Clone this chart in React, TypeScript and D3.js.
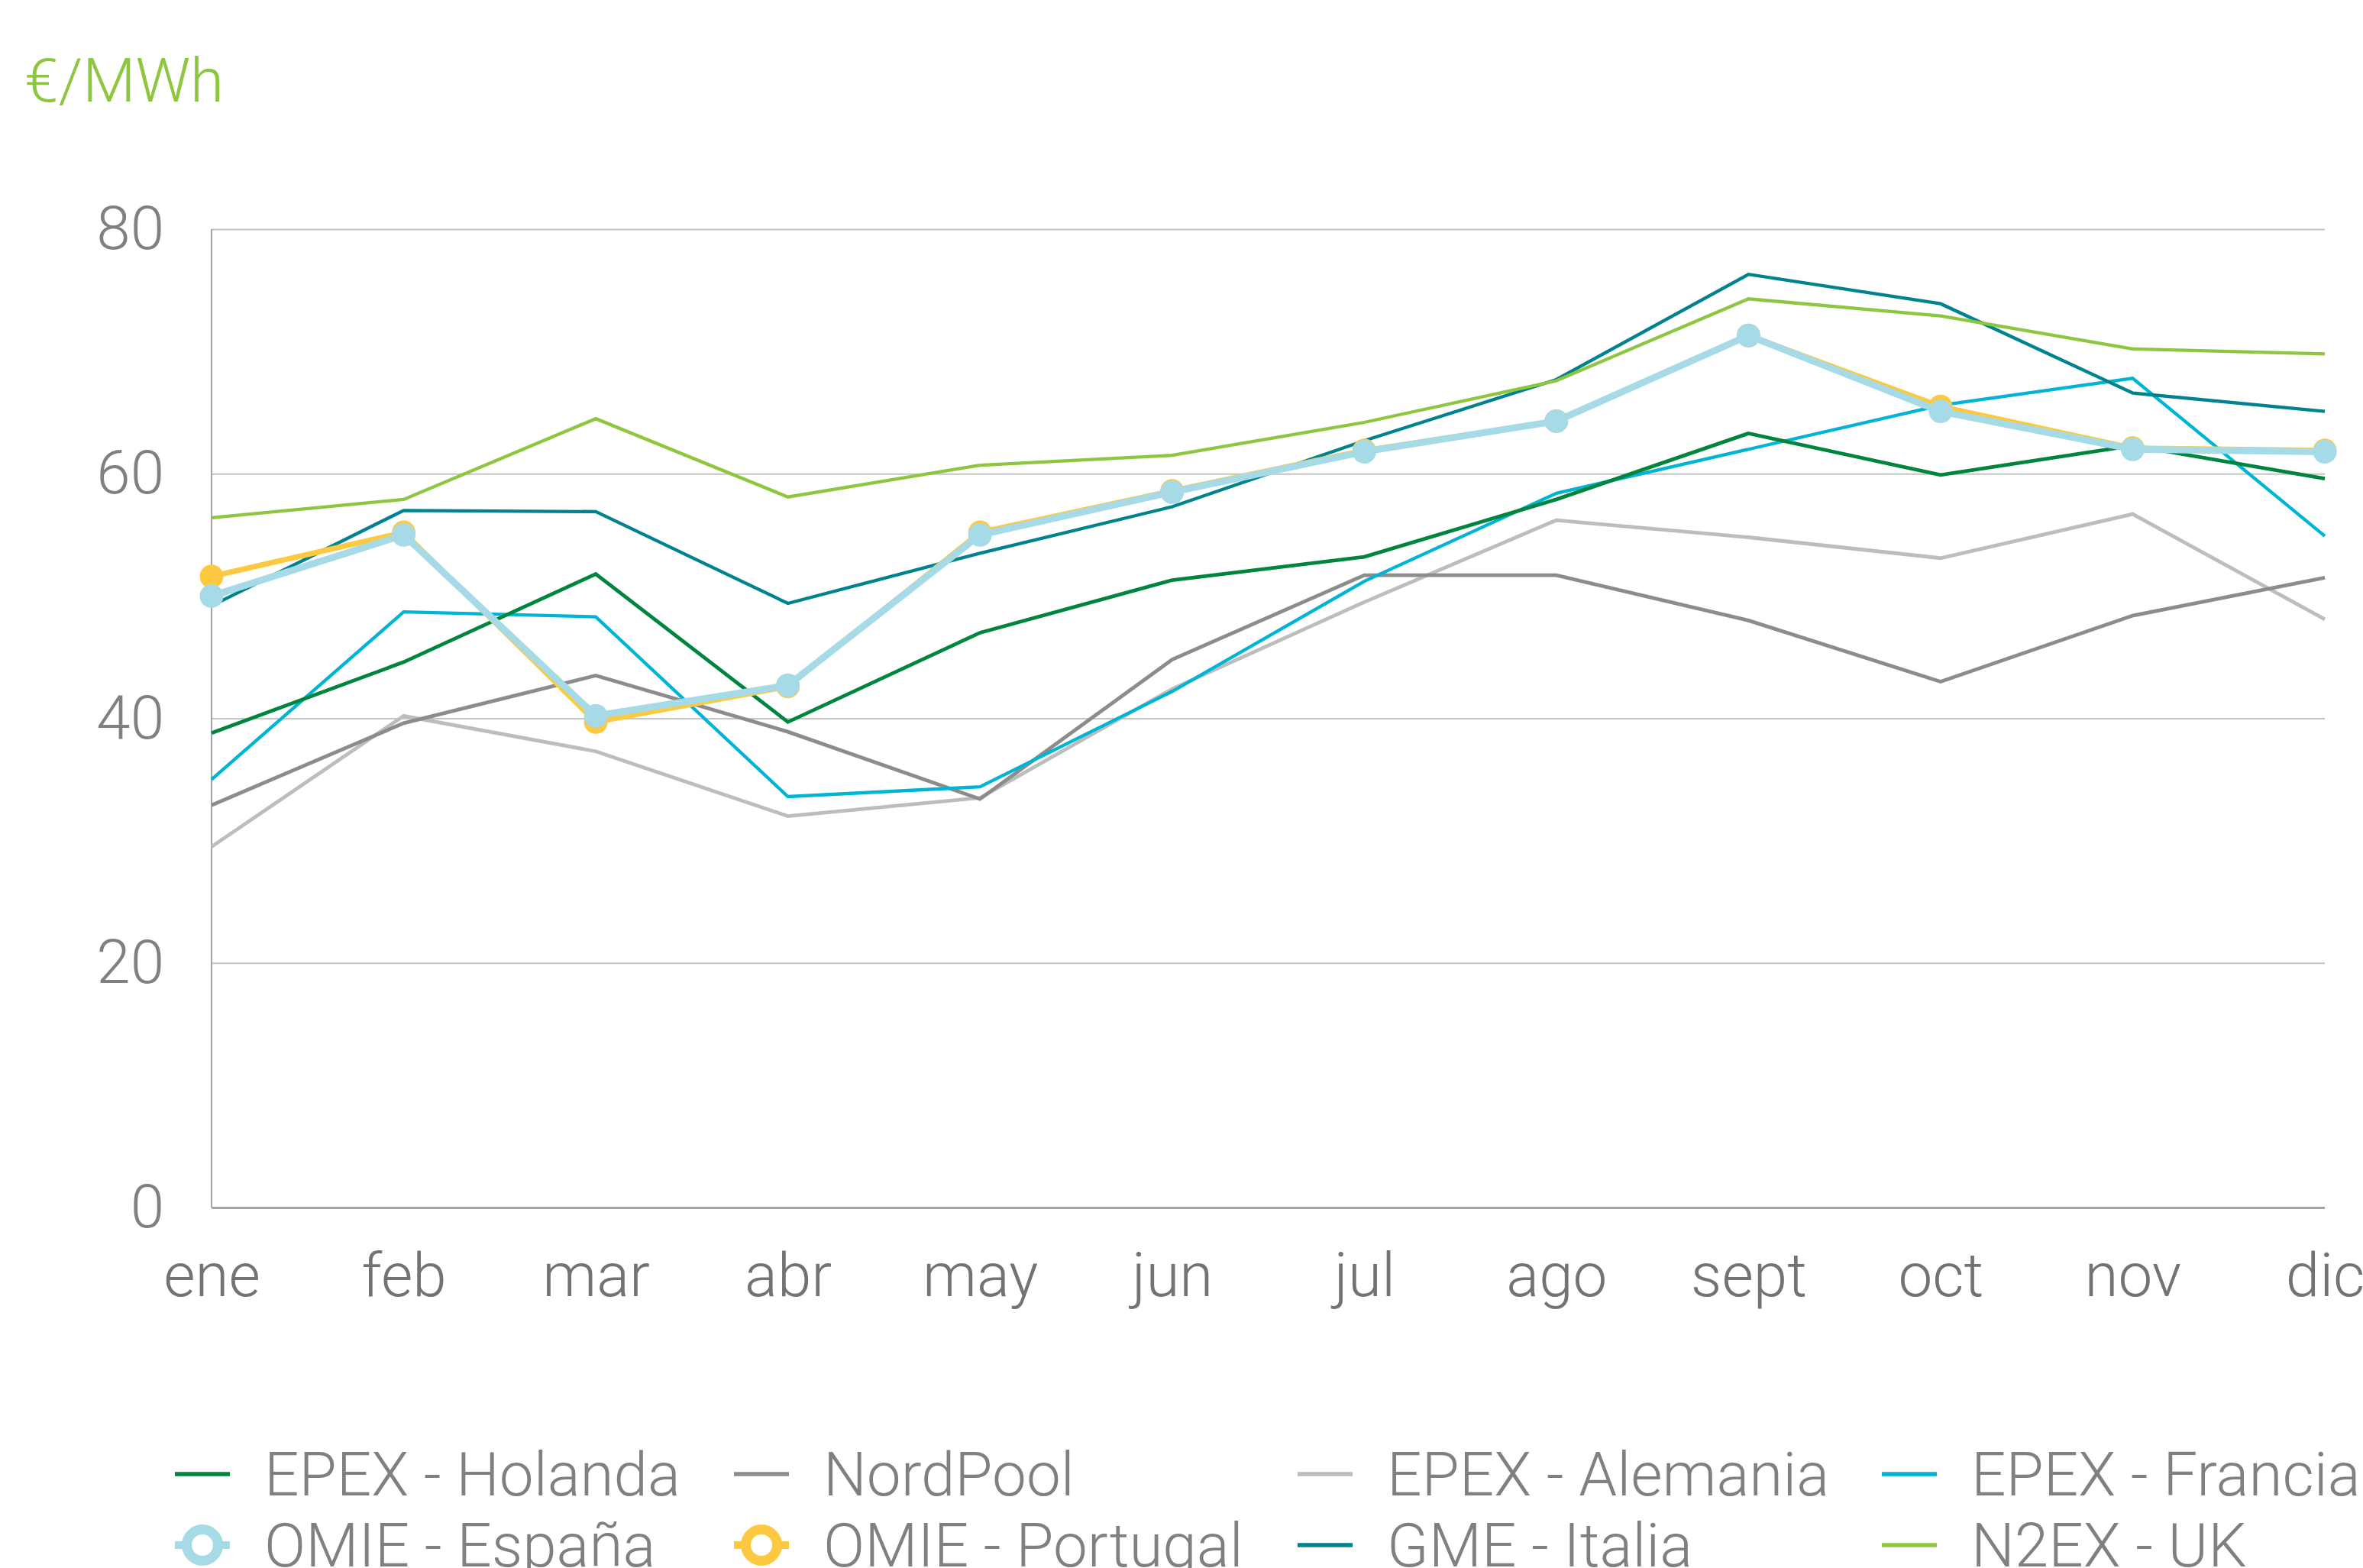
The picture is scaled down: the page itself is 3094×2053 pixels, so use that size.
import React, { useEffect, useRef } from "react";
import * as d3 from "d3";

const months = ["ene", "feb", "mar", "abr", "may", "jun", "jul", "ago", "sept", "oct", "nov", "dic"];
const epexHolanda = [38.8, 44.6, 51.8, 39.7, 47.0, 51.3, 53.2, 57.9, 63.3, 59.9, 62.3, 59.6];
const nordPool = [32.9, 39.6, 43.5, 38.9, 33.4, 44.8, 51.7, 51.7, 48.0, 43.0, 48.4, 51.5];
const epexAlemania = [29.5, 40.2, 37.3, 32.0, 33.5, 42.4, 49.5, 56.2, 54.8, 53.1, 56.7, 48.1];
const epexFrancia = [35.0, 48.7, 48.3, 33.6, 34.4, 42.2, 51.2, 58.4, 62.0, 65.6, 67.8, 54.9];
const omieEspana = [50.0, 55.0, 40.2, 42.7, 55.0, 58.5, 61.8, 64.3, 71.3, 65.1, 62.0, 61.8];
const omiePortugal = [51.6, 55.2, 39.7, 42.6, 55.2, 58.6, 61.9, 64.3, 71.3, 65.5, 62.1, 61.9];
const gmeItalia = [49.2, 57.0, 56.9, 49.4, 53.5, 57.3, 62.7, 67.7, 76.3, 73.9, 66.6, 65.1];
const n2exUK = [56.4, 57.9, 64.5, 58.1, 60.7, 61.5, 64.2, 67.6, 74.3, 72.9, 70.2, 69.8];
const yTicks = [0, 20, 40, 60, 80];

type Series = { name: string; values: number[]; color: string; width: number; marker: boolean };

const series: Series[] = [
  { name: "EPEX - Holanda", values: epexHolanda, color: "#00853E", width: 4.8, marker: false },
  { name: "NordPool", values: nordPool, color: "#8C8C8C", width: 4.8, marker: false },
  { name: "EPEX - Alemania", values: epexAlemania, color: "#BDBDBD", width: 4.8, marker: false },
  { name: "EPEX - Francia", values: epexFrancia, color: "#00B4D5", width: 4.3, marker: false },
  { name: "OMIE - España", values: omieEspana, color: "#A7DAE7", width: 9, marker: true },
  { name: "OMIE - Portugal", values: omiePortugal, color: "#FDC940", width: 7, marker: true },
  { name: "GME - Italia", values: gmeItalia, color: "#00838F", width: 4.3, marker: false },
  { name: "N2EX - UK", values: n2exUK, color: "#8DC63F", width: 4.3, marker: false },
];

// order the lines are painted in (España last, on top of Portugal)
const drawOrder = ["EPEX - Alemania", "NordPool", "EPEX - Francia", "EPEX - Holanda", "GME - Italia", "N2EX - UK", "OMIE - Portugal", "OMIE - España"];

const W = 3094;
const H = 2053;
const FONT = "Roboto, 'Open Sans', sans-serif";

function Chart() {
  const ref = useRef<SVGSVGElement>(null);

  useEffect(() => {
    const svg = d3.select(ref.current);
    svg.selectAll("*").remove();

    const left = 277, right = 3044, top = 300, bottom = 1581;

    const x = d3.scalePoint<string>().domain(months).range([left, right]);
    const y = d3.scaleLinear().domain([0, 80]).range([bottom, top]);

    // unit label
    svg
      .append("text")
      .attr("x", 32)
      .attr("y", 133)
      .style("font-family", FONT)
      .style("font-weight", 300)
      .style("font-size", "80px")
      .attr("fill", "#8DC63F")
      .text("€/MWh");

    // y axis with gridlines
    const yAxis = svg
      .append("g")
      .attr("transform", `translate(${left},0)`)
      .call(d3.axisLeft(y).tickValues(yTicks).tickSize(-(right - left)).tickPadding(62));
    yAxis.select(".domain").remove();
    yAxis
      .selectAll(".tick line")
      .attr("stroke", (d: any) => (d === 0 ? "#A3A3A3" : "#C4C4C4"))
      .attr("stroke-width", (d: any) => (d === 0 ? 3 : 2.2));
    yAxis
      .selectAll(".tick text")
      .attr("fill", "#808080")
      .style("font-family", FONT)
      .style("font-weight", 300)
      .style("font-size", "80px");

    // left axis line
    svg
      .append("line")
      .attr("x1", left)
      .attr("x2", left)
      .attr("y1", y(80))
      .attr("y2", y(0))
      .attr("stroke", "#9A9A9A")
      .attr("stroke-width", 1.8);

    // x axis labels
    const xAxis = svg
      .append("g")
      .attr("transform", `translate(0,${bottom})`)
      .call(d3.axisBottom(x).tickSize(0).tickPadding(59));
    xAxis.select(".domain").remove();
    xAxis
      .selectAll(".tick text")
      .attr("fill", "#737373")
      .style("font-family", FONT)
      .style("font-weight", 300)
      .style("font-size", "80px");

    const line = d3
      .line<number>()
      .x((_, i) => x(months[i]) as number)
      .y((d) => y(d));

    drawOrder.forEach((name) => {
      const s = series.find((d) => d.name === name)!;
      svg
        .append("path")
        .datum(s.values)
        .attr("d", line)
        .attr("fill", "none")
        .attr("stroke", s.color)
        .attr("stroke-width", s.width);
      if (s.marker) {
        svg
          .append("g")
          .selectAll("circle")
          .data(s.values)
          .join("circle")
          .attr("cx", (_, i) => x(months[i]) as number)
          .attr("cy", (d) => y(d))
          .attr("r", 15.5)
          .attr("fill", s.color);
      }
    });

    // legend
    const colX = [229, 961, 1699, 2464];
    const rowY = [1930, 2023];
    const legend = svg.append("g");
    series.forEach((s, i) => {
      const cx = colX[i % 4];
      const cy = rowY[Math.floor(i / 4)];
      const g = legend.append("g");
      if (s.marker) {
        g.append("line")
          .attr("x1", cx)
          .attr("x2", cx + 72)
          .attr("y1", cy)
          .attr("y2", cy)
          .attr("stroke", s.color)
          .attr("stroke-width", 10);
        g.append("circle")
          .attr("cx", cx + 36)
          .attr("cy", cy)
          .attr("r", 20.5)
          .attr("fill", "#fff")
          .attr("stroke", s.color)
          .attr("stroke-width", 13);
      } else {
        g.append("line")
          .attr("x1", cx)
          .attr("x2", cx + 72)
          .attr("y1", cy)
          .attr("y2", cy)
          .attr("stroke", s.color)
          .attr("stroke-width", 5.5);
      }
      g.append("text")
        .attr("x", cx + 117)
        .attr("y", cy + 28)
        .attr("fill", "#808080")
        .style("font-family", FONT)
        .style("font-weight", 300)
        .style("font-size", "80px")
        .text(s.name);
    });
  }, []);

  return <svg ref={ref} width={W} height={H} style={{ display: "block", background: "#fff" }} />;
}

export default function App() {
  return (
    <>
      <style>{"html,body{margin:0;padding:0;overflow:hidden;background:#fff}"}</style>
      <Chart />
    </>
  );
}
